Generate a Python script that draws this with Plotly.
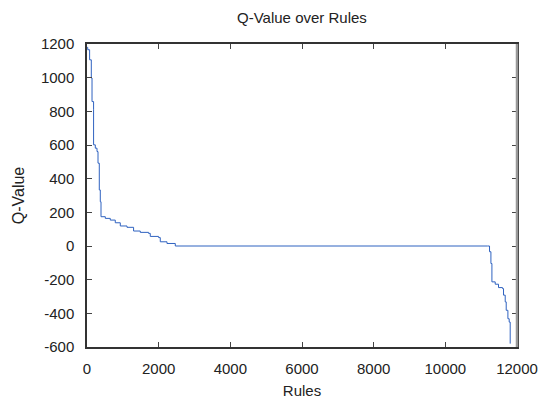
import plotly.graph_objects as go

# Step points (rule index, Q-value)
rules_x = [0, 20, 73, 120, 140, 184, 184, 232, 279, 307, 343, 371, 391, 511, 650, 789,
           929, 1116, 1300, 1487, 1719, 1766, 1998, 2045, 2232, 2464,
           11177, 11233, 11272, 11300, 11392, 11484, 11596, 11624, 11671, 11699,
           11746, 11782, 11810]
q_values = [1180, 1166, 1106, 998, 858, 809, 601, 581, 561, 492, 333, 263, 174, 164, 154, 138,
            119, 111, 89, 81, 75, 57, 50, 25, 15, 0,
            0, -34, -104, -213, -227, -247, -253, -292, -332, -382,
            -432, -452, -580]

x_ticks = [0, 2000, 4000, 6000, 8000, 10000, 12000]
x_tick_labels = ["0", "2000", "4000", "6000", "8000", "10000", "12000"]
y_ticks = [-600, -400, -200, 0, 200, 400, 600, 800, 1000, 1200]
y_tick_labels = ["-600", "-400", "-200", "0", "200", "400", "600", "800", "1000", "1200"]

fig = go.Figure()
fig.add_trace(go.Scatter(x=rules_x, y=q_values, mode="lines", line_shape="hv",
                         line=dict(color="#2f62c0", width=1), showlegend=False))

font = "Liberation Sans, Arial, sans-serif"
fig.update_layout(
    width=551, height=404,
    margin=dict(l=87, r=34, t=44, b=57),
    paper_bgcolor="white", plot_bgcolor="white",
    font=dict(family=font, color="#222222", size=15),
    title=dict(text="Q-Value over Rules", x=0.548, xanchor="center", y=0.955, yanchor="middle",
               font=dict(size=15, family=font, color="#222222")),
    xaxis=dict(range=[0, 12000], tickvals=x_ticks, ticktext=x_tick_labels,
               ticks="inside", ticklen=5, ticklabelstandoff=7, automargin=False,
               tickcolor="#444", showline=True, linecolor="#333", linewidth=1.5,
               mirror="ticks", showgrid=False, zeroline=False,
               title=dict(text="Rules", font=dict(size=15), standoff=10),
               tickfont=dict(size=15)),
    yaxis=dict(range=[-600, 1200], tickvals=y_ticks, ticktext=y_tick_labels,
               ticks="inside", ticklen=5, ticklabelstandoff=8, automargin=False,
               tickcolor="#444", showline=True, linecolor="#333", linewidth=1.5,
               mirror="ticks", showgrid=False, zeroline=False,
               title=dict(text="Q-Value", font=dict(size=16), standoff=12),
               tickfont=dict(size=15)),
)
# grey right border as in the reference
fig.add_shape(type="line", xref="paper", yref="paper", x0=1, x1=1, y0=0, y1=1,
              line=dict(color="#999999", width=2.5))

fig.write_html("out.html")
